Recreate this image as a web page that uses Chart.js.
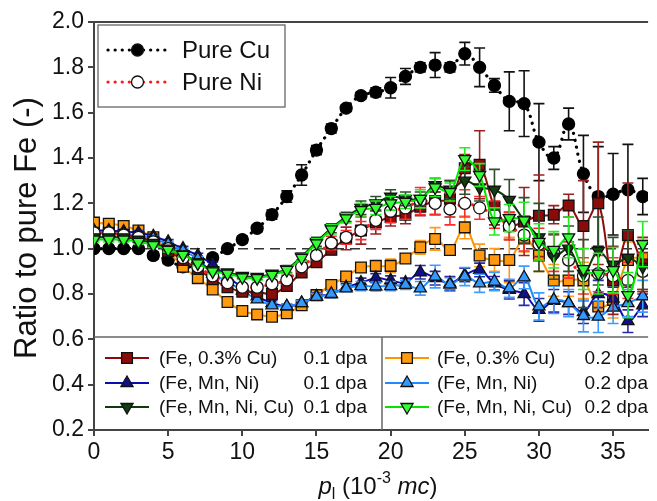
<!DOCTYPE html>
<html><head><meta charset="utf-8">
<script src="https://cdn.jsdelivr.net/npm/chart.js@4.4.1/dist/chart.umd.min.js"></script>
<style>html,body{margin:0;padding:0;background:#fff;}#wrap{width:657px;height:501px;}</style>
</head><body><div id="wrap"><canvas id="c" width="657" height="501"></canvas></div>
<script>
// ---------- data ----------
const xValues = [0,1,2,3,4,5,6,7,8,9,10,11,12,13,14,15,16,17,18,19,20,21,22,23,24,25,26,27,28,29,30,31,32,33,34,35,36,37];
const xTicks = [0,5,10,15,20,25,30,35];
const yTicks = [0.2,0.4,0.6,0.8,1.0,1.2,1.4,1.6,1.8,2.0];

const pureCu    = [1.00,1.00,1.00,1.00,0.97,0.95,0.92,0.93,0.96,1.00,1.04,1.09,1.15,1.23,1.325,1.435,1.53,1.62,1.675,1.69,1.71,1.76,1.80,1.81,1.80,1.86,1.80,1.72,1.65,1.64,1.47,1.40,1.55,1.33,1.23,1.24,1.26,1.23];
const pureCuErr = [0.01,0.01,0.01,0.01,0.015,0.015,0.015,0.015,0.015,0.01,0.015,0.015,0.02,0.025,0.045,0.02,0.02,0.015,0.015,0.02,0.045,0.035,0.02,0.055,0.02,0.05,0.085,0.03,0.13,0.145,0.17,0.05,0.07,0.17,0.22,0.18,0.2,0.08];

const pureNi    = [1.07,1.07,1.06,1.05,1.03,1.00,0.96,0.92,0.88,0.85,0.83,0.83,0.845,0.862,0.92,0.97,1.025,1.05,1.08,1.125,1.165,1.18,1.21,1.20,1.175,1.20,1.18,1.15,1.10,1.06,1.02,0.98,0.95,0.88,0.89,0.88,0.86,0.90];
const pureNiErr = [0.01,0.01,0.01,0.01,0.01,0.01,0.01,0.01,0.01,0.015,0.015,0.015,0.015,0.02,0.02,0.02,0.03,0.03,0.04,0.04,0.05,0.05,0.06,0.05,0.07,0.06,0.05,0.06,0.06,0.07,0.07,0.08,0.08,0.08,0.08,0.08,0.08,0.08];

const feCu01    = [1.07,1.07,1.06,1.05,1.03,0.99,0.95,0.91,0.865,0.83,0.81,0.81,0.80,0.835,0.895,0.94,0.995,1.045,1.08,1.115,1.14,1.15,1.185,1.21,1.22,1.355,1.37,1.185,1.10,1.12,1.145,1.15,1.19,1.10,1.20,0.86,1.06,0.93];
const feCu01Err = [0.01,0.01,0.01,0.01,0.01,0.01,0.01,0.01,0.015,0.015,0.015,0.02,0.02,0.02,0.02,0.02,0.02,0.05,0.06,0.05,0.04,0.04,0.04,0.06,0.08,0.06,0.15,0.08,0.06,0.15,0.18,0.04,0.05,0.2,0.27,0.15,0.23,0.12];

const feCu02    = [1.115,1.11,1.10,1.08,1.05,0.99,0.92,0.87,0.82,0.765,0.725,0.71,0.70,0.715,0.75,0.795,0.84,0.877,0.917,0.924,0.924,0.957,1.006,1.043,0.994,1.094,0.97,0.95,0.95,1.045,0.97,0.86,0.86,0.86,0.745,0.774,0.95,0.96];
const feCu02Err = [0.01,0.01,0.01,0.01,0.01,0.01,0.01,0.01,0.01,0.01,0.01,0.01,0.01,0.01,0.01,0.015,0.015,0.015,0.02,0.02,0.03,0.02,0.03,0.05,0.02,0.05,0.05,0.05,0.1,0.06,0.07,0.07,0.07,0.08,0.05,0.08,0.08,0.08];

const feMnNi01    = [1.08,1.08,1.075,1.07,1.055,1.03,1.0,0.97,0.93,0.875,0.83,0.79,0.76,0.745,0.76,0.79,0.80,0.83,0.85,0.87,0.86,0.85,0.896,0.87,0.847,0.884,0.906,0.847,0.818,0.80,0.73,0.77,0.76,0.72,0.80,0.78,0.68,0.75];
const feMnNi01Err = [0.01,0.01,0.01,0.01,0.01,0.01,0.01,0.01,0.01,0.01,0.01,0.01,0.01,0.01,0.01,0.015,0.015,0.015,0.02,0.02,0.02,0.02,0.03,0.03,0.03,0.03,0.03,0.03,0.04,0.05,0.05,0.05,0.05,0.05,0.06,0.05,0.05,0.05];

const feMnNi02    = [1.07,1.07,1.065,1.055,1.045,1.02,0.99,0.955,0.89,0.855,0.815,0.776,0.75,0.746,0.76,0.787,0.80,0.825,0.835,0.833,0.835,0.84,0.825,0.877,0.842,0.877,0.847,0.855,0.825,0.873,0.745,0.774,0.76,0.703,0.70,0.74,0.76,0.79];
const feMnNi02Err = [0.01,0.01,0.01,0.01,0.01,0.01,0.01,0.01,0.01,0.01,0.01,0.01,0.01,0.01,0.01,0.015,0.015,0.015,0.02,0.02,0.02,0.02,0.03,0.05,0.03,0.04,0.04,0.04,0.04,0.05,0.06,0.06,0.06,0.07,0.07,0.07,0.06,0.07];

const feMnNiCu01    = [1.05,1.05,1.05,1.04,1.025,1.0,0.975,0.94,0.905,0.895,0.88,0.875,0.89,0.91,0.965,1.03,1.09,1.14,1.18,1.20,1.23,1.22,1.22,1.28,1.26,1.30,1.27,1.26,1.215,1.125,1.05,0.965,1.0,0.89,0.99,0.93,0.96,0.92];
const feMnNiCu01Err = [0.01,0.01,0.01,0.01,0.01,0.01,0.01,0.01,0.01,0.01,0.01,0.01,0.01,0.015,0.015,0.02,0.02,0.02,0.03,0.03,0.03,0.03,0.03,0.03,0.04,0.06,0.06,0.09,0.09,0.1,0.15,0.1,0.1,0.15,0.15,0.12,0.12,0.1];

const feMnNiCu02    = [1.04,1.04,1.04,1.03,1.016,0.995,0.973,0.935,0.90,0.89,0.874,0.87,0.884,0.906,0.96,1.024,1.085,1.134,1.17,1.18,1.20,1.207,1.22,1.27,1.25,1.395,1.325,1.12,1.135,1.125,1.03,0.995,1.05,0.91,0.89,0.905,0.795,1.02];
const feMnNiCu02Err = [0.01,0.01,0.01,0.01,0.01,0.01,0.01,0.01,0.01,0.01,0.01,0.01,0.01,0.015,0.015,0.02,0.02,0.02,0.03,0.03,0.03,0.03,0.04,0.04,0.04,0.05,0.05,0.06,0.06,0.08,0.08,0.08,0.09,0.09,0.09,0.1,0.1,0.1];

const refLineX = [0, 37.36];
const refLineY = [1.0, 1.0];

// ---------- styling ----------
const FONT = "'Liberation Sans', Arial, Helvetica, sans-serif";
const pts = (ys) => ys.map((y, i) => ({x: xValues[i], y}));

function series(cfg) {
  return Object.assign({
    borderWidth: 2, tension: 0.35, pointBorderColor: '#111', pointBorderWidth: 1.3,
    pointRadius: 7.6, fill: false, clip: 0
  }, cfg);
}

const datasets = [
  series({label:'Pure Cu', data: pts(pureCu), errors: pureCuErr, errColor:'#111',
    borderColor:'#000', borderWidth:3.2, borderDash:[0.1,7], borderCapStyle:'round', tension:0.4,
    pointStyle:'circle', pointRadius:6, pointBackgroundColor:'#000', pointBorderColor:'#000', order:9}),
  series({label:'Pure Ni', data: pts(pureNi), errors: pureNiErr, errColor:'#ff2a2a',
    borderColor:'#ff1a1a', borderWidth:3.2, borderDash:[0.1,7], borderCapStyle:'round', tension:0.4,
    pointStyle:'circle', pointRadius:6, pointBackgroundColor:'#fff', pointBorderColor:'#111', order:3}),
  series({label:'FeCu01', data: pts(feCu01), errors: feCu01Err, errColor:'#9a1f1f',
    borderColor:'#8b0a0a', pointStyle:'rect', pointBackgroundColor:'#8b0a0a', order:4}),
  series({label:'FeMnNi01', data: pts(feMnNi01), errors: feMnNi01Err, errColor:'#2a2aa8',
    borderColor:'#0c0cb0', pointStyle:'triangle', pointRadius:7, pointBackgroundColor:'#10108a', order:6}),
  series({label:'FeMnNiCu01', data: pts(feMnNiCu01), errors: feMnNiCu01Err, errColor:'#2f4f2f',
    borderColor:'#0f3a0f', pointStyle:'triangle', pointRotation:180, pointRadius:7, pointBackgroundColor:'#113d11', order:2}),
  series({label:'FeCu02', data: pts(feCu02), errors: feCu02Err, errColor:'#ff9a1a',
    borderColor:'#ff9400', pointStyle:'rect', pointBackgroundColor:'#ff9a10', order:7}),
  series({label:'FeMnNi02', data: pts(feMnNi02), errors: feMnNi02Err, errColor:'#3d9dff',
    borderColor:'#1e8cff', pointStyle:'triangle', pointRadius:7, pointBackgroundColor:'#3399ff', order:5}),
  series({label:'FeMnNiCu02', data: pts(feMnNiCu02), errors: feMnNiCu02Err, errColor:'#22ee22',
    borderColor:'#00e600', pointStyle:'triangle', pointRotation:180, pointRadius:7, pointBackgroundColor:'#33ff33', order:1}),
  {label:'ref', data: refLineX.map((x,i)=>({x, y: refLineY[i]})), borderColor:'#333', borderWidth:1.5,
    borderDash:[10,6], pointRadius:0, fill:false, tension:0, order:20}
];

// ---------- plugins ----------
const errorBars = {
  id: 'errorBars',
  beforeDatasetDraw(chart, args) {
    const ds = chart.data.datasets[args.index];
    if (!ds.errors) return;
    const {ctx, chartArea: a, scales: {x, y}} = chart;
    ctx.save();
    ctx.beginPath(); ctx.rect(a.left, a.top, a.right - a.left, a.bottom - a.top); ctx.clip();
    ctx.strokeStyle = ds.errColor; ctx.lineWidth = 1.6;
    ds.data.forEach((p, i) => {
      const e = ds.errors[i];
      const px = x.getPixelForValue(p.x);
      const t = y.getPixelForValue(p.y + e), b = y.getPixelForValue(p.y - e);
      ctx.beginPath();
      ctx.moveTo(px, t); ctx.lineTo(px, b);
      ctx.moveTo(px - 5.5, t); ctx.lineTo(px + 5.5, t);
      ctx.moveTo(px - 5.5, b); ctx.lineTo(px + 5.5, b);
      ctx.stroke();
    });
    ctx.restore();
  }
};

function marker(ctx, style, x, y, fill) {
  ctx.save();
  ctx.fillStyle = fill; ctx.strokeStyle = '#111'; ctx.lineWidth = 1.3;
  ctx.beginPath();
  if (style === 'rect') { ctx.rect(x - 5.4, y - 5.4, 10.8, 10.8); }
  else if (style === 'circle') { ctx.arc(x, y, 6, 0, Math.PI * 2); }
  else if (style === 'up') { ctx.moveTo(x, y - 7); ctx.lineTo(x + 6.06, y + 3.5); ctx.lineTo(x - 6.06, y + 3.5); ctx.closePath(); }
  else if (style === 'down') { ctx.moveTo(x, y + 7); ctx.lineTo(x + 6.06, y - 3.5); ctx.lineTo(x - 6.06, y - 3.5); ctx.closePath(); }
  ctx.fill(); ctx.stroke();
  ctx.restore();
}

const decorations = {
  id: 'decorations',
  afterDraw(chart) {
    const {ctx, chartArea: a} = chart;
    ctx.save();
    // top frame line
    ctx.strokeStyle = '#444'; ctx.lineWidth = 2;
    ctx.beginPath(); ctx.moveTo(a.left - 1, a.top); ctx.lineTo(a.right, a.top); ctx.stroke();

    // top-left legend
    ctx.fillStyle = '#fff'; ctx.fillRect(98, 25, 187, 82);
    ctx.strokeStyle = '#666'; ctx.lineWidth = 1.3; ctx.strokeRect(98, 25, 187, 82);
    const topRows = [
      {y: 50, color: '#000', fill: '#000', text: 'Pure Cu'},
      {y: 82, color: '#ff1a1a', fill: '#fff', text: 'Pure Ni'}
    ];
    topRows.forEach(r => {
      ctx.save();
      ctx.strokeStyle = r.color; ctx.lineWidth = 3.2; ctx.lineCap = 'round'; ctx.setLineDash([0.1, 7]);
      ctx.beginPath(); ctx.moveTo(108, r.y); ctx.lineTo(167, r.y); ctx.stroke();
      ctx.restore();
      marker(ctx, 'circle', 137.5, r.y, r.fill);
      ctx.fillStyle = '#111'; ctx.font = '24px ' + FONT; ctx.textBaseline = 'middle'; ctx.textAlign = 'left';
      ctx.fillText(r.text, 182, r.y + 1);
    });

    // bottom legend
    ctx.fillStyle = '#fff'; ctx.fillRect(a.left + 1, 338, a.right - a.left, a.bottom - 339);
    ctx.strokeStyle = '#666'; ctx.lineWidth = 1.5;
    ctx.beginPath(); ctx.moveTo(a.left, 337); ctx.lineTo(a.right, 337);
    ctx.moveTo(382, 337); ctx.lineTo(382, a.bottom); ctx.stroke();
    const rowsY = [358, 383, 407];
    const left = [
      {c: '#8b0a0a', s: 'rect', f: '#8b0a0a', t: '(Fe, 0.3% Cu)'},
      {c: '#0c0cb0', s: 'up', f: '#10108a', t: '(Fe, Mn, Ni)'},
      {c: '#0f3a0f', s: 'down', f: '#113d11', t: '(Fe, Mn, Ni, Cu)'}
    ];
    const right = [
      {c: '#ff9400', s: 'rect', f: '#ff9a10', t: '(Fe, 0.3% Cu)'},
      {c: '#1e8cff', s: 'up', f: '#3399ff', t: '(Fe, Mn, Ni)'},
      {c: '#00e600', s: 'down', f: '#33ff33', t: '(Fe, Mn, Ni, Cu)'}
    ];
    ctx.font = '19px ' + FONT; ctx.textBaseline = 'middle';
    const drawCol = (items, x0, x1, tx, dpaX, dpa) => {
      items.forEach((it, i) => {
        const y = rowsY[i];
        ctx.strokeStyle = it.c; ctx.lineWidth = 2;
        ctx.beginPath(); ctx.moveTo(x0, y); ctx.lineTo(x1, y); ctx.stroke();
        marker(ctx, it.s, (x0 + x1) / 2, y, it.f);
        ctx.fillStyle = '#111';
        ctx.textAlign = 'left'; ctx.fillText(it.t, tx, y + 1);
        ctx.textAlign = 'right'; ctx.fillText(dpa, dpaX, y + 1);
      });
    };
    drawCol(left, 105, 149, 159, 367, '0.1 dpa');
    drawCol(right, 385, 429, 437, 648, '0.2 dpa');

    // y-axis title
    ctx.save();
    ctx.translate(36, 228); ctx.rotate(-Math.PI / 2);
    ctx.fillStyle = '#111'; ctx.font = '31px ' + FONT; ctx.textAlign = 'center'; ctx.textBaseline = 'alphabetic';
    ctx.fillText('Ratio to pure Fe (-)', 0, 0);
    ctx.restore();

    // x-axis title: p_l (10^-3 mc)
    const base = 494;
    const parts = [
      {t: 'p', f: 'italic 24px ' + FONT, dy: 0},
      {t: 'l', f: '16px ' + FONT, dy: 5},
      {t: ' (10', f: '24px ' + FONT, dy: 0},
      {t: '-3', f: '16px ' + FONT, dy: -11},
      {t: ' ', f: '24px ' + FONT, dy: 0},
      {t: 'mc', f: 'italic 24px ' + FONT, dy: 0},
      {t: ')', f: '24px ' + FONT, dy: 0}
    ];
    let total = 0;
    parts.forEach(p => { ctx.font = p.f; p.w = ctx.measureText(p.t).width; total += p.w; });
    let cx = 378 - total / 2;
    ctx.fillStyle = '#111'; ctx.textAlign = 'left'; ctx.textBaseline = 'alphabetic';
    parts.forEach(p => { ctx.font = p.f; ctx.fillText(p.t, cx, base + p.dy); cx += p.w; });
    ctx.restore();
  }
};

new Chart(document.getElementById('c'), {
  type: 'line',
  data: {datasets},
  options: {
    responsive: false, animation: false, devicePixelRatio: 1,
    layout: {padding: {top: 22, left: 0, right: 0, bottom: 0}},
    plugins: {legend: {display: false}, tooltip: {enabled: false}},
    scales: {
      x: {
        type: 'linear', min: 0, max: 37.36,
        afterBuildTicks(ax) { ax.ticks = xTicks.map(v => ({value: v})); },
        afterFit(ax) { ax.height = 71; ax.paddingLeft = 0; ax.paddingRight = 0; },
        ticks: {font: {family: FONT, size: 23}, color: '#111', padding: 3, maxRotation: 0, autoSkip: false,
          callback: v => String(v)},
        grid: {drawOnChartArea: false, drawTicks: true, tickLength: 6, color: '#444', lineWidth: 2},
        border: {display: true, color: '#444', width: 2}
      },
      y: {
        type: 'linear', min: 0.2, max: 2.0,
        afterBuildTicks(ax) { ax.ticks = yTicks.map(v => ({value: v})); },
        afterFit(ax) { ax.width = 94; ax.paddingTop = 0; ax.paddingBottom = 0; },
        ticks: {font: {family: FONT, size: 23}, color: '#111', padding: 4, autoSkip: false,
          callback: v => Number(v).toFixed(1)},
        grid: {drawOnChartArea: false, drawTicks: true, tickLength: 6, color: '#444', lineWidth: 2},
        border: {display: true, color: '#444', width: 2}
      }
    }
  },
  plugins: [errorBars, decorations]
});
</script>
</body></html>
